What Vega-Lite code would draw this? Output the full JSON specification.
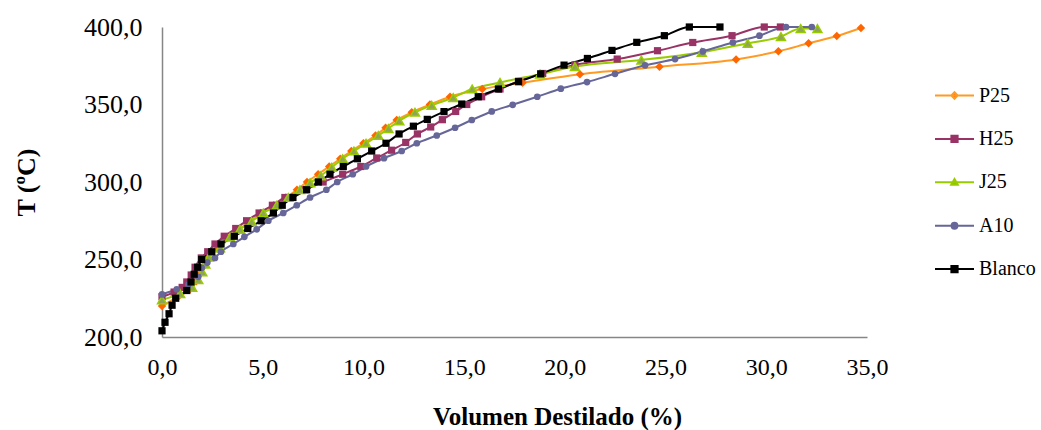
{
  "$schema": "https://vega.github.io/schema/vega-lite/v6.json",
  "width": 705,
  "height": 310,
  "autosize": "none",
  "padding": {"left": 162, "top": 27, "right": 174, "bottom": 93},
  "background": "white",
  "datasets": {
    "pts": [
      {"s":"P25","v":0,"T":220},{"s":"P25","v":0.8,"T":226},{"s":"P25","v":1.4,"T":231},{"s":"P25","v":1.7,"T":236},{"s":"P25","v":1.9,"T":241},{"s":"P25","v":2.1,"T":246},{"s":"P25","v":2.3,"T":251},{"s":"P25","v":2.75,"T":257},{"s":"P25","v":3.25,"T":264},{"s":"P25","v":3.75,"T":269},{"s":"P25","v":4.35,"T":274},{"s":"P25","v":4.9,"T":280},{"s":"P25","v":5.55,"T":285},{"s":"P25","v":6.15,"T":290},{"s":"P25","v":6.7,"T":295},{"s":"P25","v":7.2,"T":300},{"s":"P25","v":7.75,"T":305},{"s":"P25","v":8.3,"T":310},{"s":"P25","v":8.85,"T":315},{"s":"P25","v":9.4,"T":320},{"s":"P25","v":10.0,"T":325},{"s":"P25","v":10.6,"T":330},{"s":"P25","v":11.1,"T":335},{"s":"P25","v":11.65,"T":340},{"s":"P25","v":12.4,"T":345},{"s":"P25","v":13.3,"T":350},{"s":"P25","v":14.3,"T":355},{"s":"P25","v":15.9,"T":360},{"s":"P25","v":17.9,"T":364},{"s":"P25","v":20.75,"T":369.5},{"s":"P25","v":24.7,"T":374.4},{"s":"P25","v":28.5,"T":379.1},{"s":"P25","v":30.6,"T":384.3},{"s":"P25","v":32.1,"T":389.5},{"s":"P25","v":33.5,"T":394.2},{"s":"P25","v":34.7,"T":399.4},
      {"s":"H25","v":0,"T":226},{"s":"H25","v":0.6,"T":229},{"s":"H25","v":1.0,"T":232},{"s":"H25","v":1.23,"T":235.5},{"s":"H25","v":1.45,"T":240},{"s":"H25","v":1.64,"T":245},{"s":"H25","v":1.95,"T":251},{"s":"H25","v":2.27,"T":255},{"s":"H25","v":2.63,"T":260},{"s":"H25","v":3.09,"T":265},{"s":"H25","v":3.66,"T":270},{"s":"H25","v":4.2,"T":275},{"s":"H25","v":4.82,"T":280},{"s":"H25","v":5.48,"T":285},{"s":"H25","v":6.1,"T":290},{"s":"H25","v":7.1,"T":295},{"s":"H25","v":8.0,"T":300},{"s":"H25","v":8.97,"T":305},{"s":"H25","v":9.87,"T":310},{"s":"H25","v":10.66,"T":315.5},{"s":"H25","v":11.4,"T":320.5},{"s":"H25","v":12.1,"T":325.5},{"s":"H25","v":12.68,"T":331},{"s":"H25","v":13.34,"T":335.5},{"s":"H25","v":13.92,"T":340.2},{"s":"H25","v":14.58,"T":345.5},{"s":"H25","v":15.13,"T":350},{"s":"H25","v":15.87,"T":355},{"s":"H25","v":16.78,"T":360},{"s":"H25","v":17.7,"T":365},{"s":"H25","v":18.9,"T":370},{"s":"H25","v":20.5,"T":375.5},{"s":"H25","v":22.6,"T":379.3},{"s":"H25","v":24.6,"T":384.7},{"s":"H25","v":26.35,"T":390},{"s":"H25","v":28.3,"T":394.4},{"s":"H25","v":29.9,"T":400},{"s":"H25","v":30.7,"T":400},
      {"s":"J25","v":0,"T":224},{"s":"J25","v":0.9,"T":228},{"s":"J25","v":1.5,"T":232},{"s":"J25","v":1.8,"T":237},{"s":"J25","v":2.0,"T":242},{"s":"J25","v":2.15,"T":247},{"s":"J25","v":2.33,"T":251.5},{"s":"J25","v":2.88,"T":257.5},{"s":"J25","v":3.38,"T":264.5},{"s":"J25","v":3.87,"T":269.5},{"s":"J25","v":4.45,"T":274.5},{"s":"J25","v":5.03,"T":280},{"s":"J25","v":5.7,"T":285},{"s":"J25","v":6.27,"T":290},{"s":"J25","v":6.85,"T":295},{"s":"J25","v":7.35,"T":299.5},{"s":"J25","v":7.88,"T":304},{"s":"J25","v":8.43,"T":309.5},{"s":"J25","v":8.97,"T":315},{"s":"J25","v":9.53,"T":320},{"s":"J25","v":10.13,"T":325},{"s":"J25","v":10.74,"T":330},{"s":"J25","v":11.24,"T":334.5},{"s":"J25","v":11.78,"T":339.5},{"s":"J25","v":12.56,"T":345},{"s":"J25","v":13.39,"T":349.5},{"s":"J25","v":14.46,"T":354.5},{"s":"J25","v":15.4,"T":360},{"s":"J25","v":16.78,"T":364.2},{"s":"J25","v":18.77,"T":369.6},{"s":"J25","v":20.5,"T":374.5},{"s":"J25","v":23.8,"T":378.7},{"s":"J25","v":26.8,"T":383.7},{"s":"J25","v":29.08,"T":389.5},{"s":"J25","v":30.73,"T":393.8},{"s":"J25","v":31.71,"T":399},{"s":"J25","v":32.54,"T":399},
      {"s":"A10","v":0,"T":227.5},{"s":"A10","v":0.73,"T":230.8},{"s":"A10","v":1.31,"T":233.8},{"s":"A10","v":1.8,"T":238.8},{"s":"A10","v":1.97,"T":244.6},{"s":"A10","v":2.25,"T":248},{"s":"A10","v":2.63,"T":251},{"s":"A10","v":2.93,"T":255},{"s":"A10","v":3.54,"T":260},{"s":"A10","v":4.09,"T":264.6},{"s":"A10","v":4.7,"T":269.5},{"s":"A10","v":5.28,"T":275},{"s":"A10","v":6.02,"T":280},{"s":"A10","v":6.69,"T":285},{"s":"A10","v":7.35,"T":290},{"s":"A10","v":8.16,"T":295},{"s":"A10","v":8.7,"T":300},{"s":"A10","v":9.47,"T":305},{"s":"A10","v":10.13,"T":310},{"s":"A10","v":11.02,"T":315.4},{"s":"A10","v":11.9,"T":320},{"s":"A10","v":12.65,"T":325},{"s":"A10","v":13.64,"T":330},{"s":"A10","v":14.55,"T":335},{"s":"A10","v":15.38,"T":340},{"s":"A10","v":16.37,"T":345.5},{"s":"A10","v":17.41,"T":349.8},{"s":"A10","v":18.63,"T":355},{"s":"A10","v":19.8,"T":360.2},{"s":"A10","v":21.1,"T":364.5},{"s":"A10","v":22.49,"T":369.8},{"s":"A10","v":23.98,"T":375.3},{"s":"A10","v":25.47,"T":379.3},{"s":"A10","v":26.85,"T":384.3},{"s":"A10","v":28.34,"T":390},{"s":"A10","v":29.66,"T":394.4},{"s":"A10","v":30.98,"T":400},{"s":"A10","v":32.26,"T":400},
      {"s":"Blanco","v":0,"T":204},{"s":"Blanco","v":0.15,"T":209.5},{"s":"Blanco","v":0.35,"T":215},{"s":"Blanco","v":0.5,"T":220.5},{"s":"Blanco","v":0.68,"T":225},{"s":"Blanco","v":1.23,"T":230},{"s":"Blanco","v":1.44,"T":235.5},{"s":"Blanco","v":1.6,"T":240.5},{"s":"Blanco","v":1.77,"T":245},{"s":"Blanco","v":1.97,"T":250},{"s":"Blanco","v":2.47,"T":255},{"s":"Blanco","v":2.93,"T":260},{"s":"Blanco","v":3.59,"T":265},{"s":"Blanco","v":4.26,"T":270},{"s":"Blanco","v":4.92,"T":275},{"s":"Blanco","v":5.53,"T":280},{"s":"Blanco","v":5.97,"T":285},{"s":"Blanco","v":6.5,"T":290},{"s":"Blanco","v":7.18,"T":295},{"s":"Blanco","v":7.76,"T":300},{"s":"Blanco","v":8.34,"T":305},{"s":"Blanco","v":9.0,"T":310},{"s":"Blanco","v":9.7,"T":315},{"s":"Blanco","v":10.41,"T":320},{"s":"Blanco","v":11.12,"T":325},{"s":"Blanco","v":11.77,"T":331},{"s":"Blanco","v":12.48,"T":336},{"s":"Blanco","v":13.17,"T":340.4},{"s":"Blanco","v":14.0,"T":345.4},{"s":"Blanco","v":14.88,"T":350.3},{"s":"Blanco","v":15.7,"T":355},{"s":"Blanco","v":16.7,"T":360},{"s":"Blanco","v":17.7,"T":364.7},{"s":"Blanco","v":18.8,"T":369.8},{"s":"Blanco","v":19.96,"T":375.4},{"s":"Blanco","v":21.12,"T":379.7},{"s":"Blanco","v":22.34,"T":384.9},{"s":"Blanco","v":23.57,"T":390.1},{"s":"Blanco","v":24.94,"T":394.4},{"s":"Blanco","v":26.18,"T":400},{"s":"Blanco","v":27.7,"T":400}
    ]
  },
  "data": {"name": "pts"},
  "encoding": {
    "x": {
      "field": "v", "type": "quantitative",
      "scale": {"domain": [0, 35], "nice": false, "zero": false},
      "axis": {
        "values": [0, 5, 10, 15, 20, 25, 30, 35],
        "labelExpr": "replace(format(datum.value, '.1f'), '.', ',')",
        "labelFlush": false, "labelPadding": 18, "labelOverlap": false,
        "title": "Volumen Destilado (%)", "titleFontSize": 25,
        "titleX": 395, "titleY": 87, "titleAlign": "center", "titleBaseline": "alphabetic"
      }
    },
    "y": {
      "field": "T", "type": "quantitative",
      "scale": {"domain": [200, 400], "nice": false, "zero": false},
      "axis": {
        "values": [200, 250, 300, 350, 400],
        "labelExpr": "replace(format(datum.value, '.1f'), '.', ',')",
        "labelPadding": 20, "labelOverlap": false, "labelFontSize": 26,
        "title": "T (ºC)", "titleFontSize": 26,
        "titleX": -128, "titleY": 155, "titleAlign": "center", "titleBaseline": "alphabetic", "titleAngle": -90
      }
    }
  },
  "layer": [
    {
      "mark": {"type": "line", "interpolate": "monotone", "strokeWidth": 2},
      "encoding": {
        "stroke": {
          "field": "s", "type": "nominal",
          "scale": {"domain": ["P25", "H25", "J25", "A10", "Blanco"], "range": ["#FF9A22", "#993366", "#99CC00", "#666699", "#000000"]},
          "legend": {
            "title": null, "orient": "none", "legendX": 772, "legendY": 48,
            "symbolType": "M-1,0H1", "symbolSize": 1521, "symbolStrokeWidth": 2,
            "labelFont": "Liberation Serif", "labelFontSize": 20, "labelColor": "#000000",
            "labelOffset": 4, "rowPadding": 12.4, "padding": 0,
            "encode": {
              "symbols": {
                "update": {
                  "shape": {"signal": "datum.value === 'P25' ? 'M-1,0H1M0,-0.17L0.16,0L0,0.17L-0.16,0Z' : datum.value === 'J25' ? 'M-1,0H1M0,-0.17L0.17,0.13L-0.17,0.13Z' : datum.value === 'A10' ? 'M-1,0H1M-0.15,0A0.15,0.15 0 1,0 0.15,0A0.15,0.15 0 1,0 -0.15,0Z' : 'M-1,0H1M-0.16,-0.16H0.16V0.16H-0.16Z'"},
                  "fill": {"signal": "datum.value === 'P25' ? '#FF6600' : datum.value === 'H25' ? '#993366' : datum.value === 'J25' ? '#8FA35A' : datum.value === 'A10' ? '#666699' : '#000000'"},
                  "strokeWidth": {"value": 2}
                }
              }
            }
          }
        }
      }
    },
    {
      "mark": {"type": "point", "filled": true, "opacity": 1, "stroke": "#99CC00"},
      "encoding": {
        "shape": {"condition": [{"test": "datum.s === 'P25'", "value": "diamond"}, {"test": "datum.s === 'J25'", "value": "triangle-up"}, {"test": "datum.s === 'A10'", "value": "circle"}], "value": "square"},
        "fill": {"condition": [{"test": "datum.s === 'P25'", "value": "#FF6600"}, {"test": "datum.s === 'H25'", "value": "#993366"}, {"test": "datum.s === 'J25'", "value": "#8FA35A"}, {"test": "datum.s === 'A10'", "value": "#666699"}], "value": "#000000"},
        "size": {"condition": [{"test": "datum.s === 'P25'", "value": 72}, {"test": "datum.s === 'J25'", "value": 80}, {"test": "datum.s === 'A10'", "value": 45}], "value": 52},
        "strokeWidth": {"condition": {"test": "datum.s === 'J25'", "value": 1.5}, "value": 0}
      }
    }
  ],
  "config": {
    "view": {"stroke": null},
    "axis": {
      "grid": false, "ticks": false,
      "domainColor": "#868686", "domainWidth": 1.5,
      "labelFont": "Liberation Serif", "labelFontSize": 24, "labelColor": "#000000",
      "titleFont": "Liberation Serif", "titleFontWeight": "bold", "titleColor": "#000000"
    }
  }
}
